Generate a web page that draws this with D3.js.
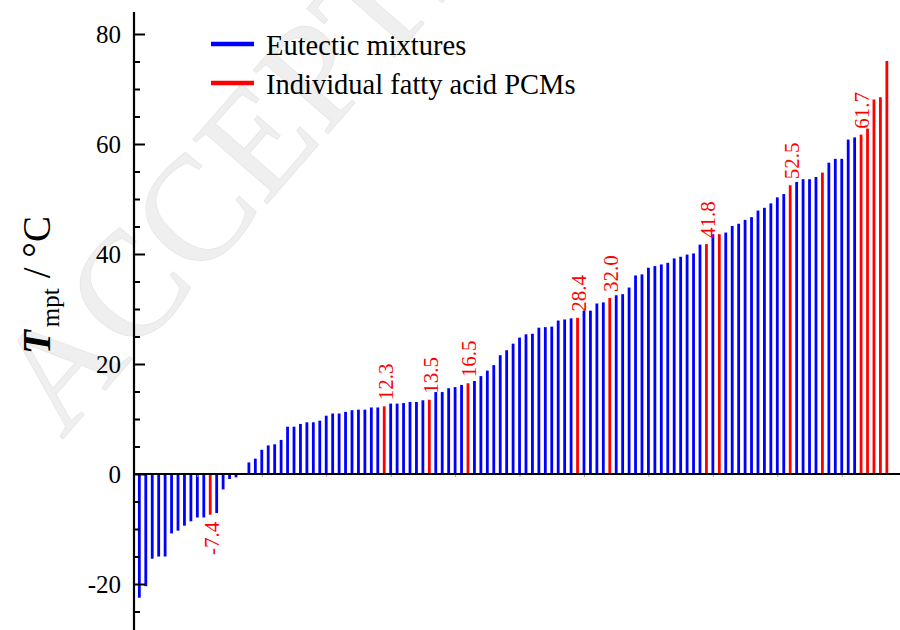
<!DOCTYPE html>
<html>
<head>
<meta charset="utf-8">
<script src="https://cdn.jsdelivr.net/npm/d3@7/dist/d3.min.js"></script>
<style>
  html, body { margin: 0; padding: 0; background: #fff; }
  svg { display: block; }
  text { font-family: "Liberation Serif", "Times New Roman", "DejaVu Serif", serif; }
</style>
</head>
<body>
<svg id="chart" width="900" height="630"></svg>
<script>
// ---- data ----
// melting temperatures, sorted ascending, one per material (°C)
const barValues = [
  -22.5, -20.4, -15.4, -15.0, -15.0, -10.8, -10.3, -9.4, -8.6, -7.9,
  -7.9, -7.4, -7.1, -2.8, -0.9, -0.6, 0.0, 2.1, 2.8, 4.4,
  5.2, 5.4, 6.2, 8.6, 8.6, 9.1, 9.4, 9.4, 9.7, 10.6,
  11.0, 11.0, 11.3, 11.6, 11.7, 11.7, 12.1, 12.1, 12.3, 12.8,
  12.8, 12.9, 13.1, 13.1, 13.4, 13.5, 14.9, 14.9, 15.6, 15.8,
  16.2, 16.5, 16.9, 17.8, 18.8, 19.8, 21.6, 22.5, 23.7, 24.8,
  25.4, 25.5, 26.6, 26.7, 26.8, 27.9, 28.1, 28.3, 28.4, 29.7,
  29.7, 31.0, 31.2, 32.0, 32.5, 32.7, 33.9, 36.1, 36.3, 37.5,
  37.8, 38.1, 38.4, 39.2, 39.5, 39.9, 40.1, 41.7, 41.8, 43.6,
  43.6, 43.9, 45.1, 45.5, 46.2, 46.7, 47.9, 48.4, 49.2, 50.3,
  50.9, 52.5, 53.1, 53.6, 53.6, 54.0, 54.8, 56.6, 57.3, 57.3,
  60.8, 61.2, 61.7, 62.8, 68.1, 68.5, 75.1
];
// positions (0-based) of the individual fatty acid PCMs; all others are eutectic mixtures
const fattyAcidIndex = [11, 38, 45, 51, 68, 73, 88, 90, 101, 106, 112, 113, 114, 115, 116];
// bars that carry a value label
const labeledIndex = [11, 38, 45, 51, 68, 73, 88, 101, 112];
const seriesNames = ["Eutectic mixtures", "Individual fatty acid PCMs"];
const seriesColors = ["#0000ff", "#ff0000"];
const yMajorTicks = [-20, 0, 20, 40, 60, 80];
const yMinorTicks = [-25, -15, -10, -5, 5, 10, 15, 25, 30, 35, 45, 50, 55, 65, 70, 75];
const xTicks = [10, 20, 30, 40, 50, 60, 70, 80, 90, 100, 110];
const watermarkText = "ACCEPTED MANUSCRIPT";

// ---- drawing ----
const svg = d3.select("#chart");
const fontFam = '"Liberation Serif", "Times New Roman", serif';

const x = d3.scaleLinear().domain([0, 118]).range([132.9, 893.3]);
const y = d3.scaleLinear().domain([-28.5, 84]).range([630.75, 12]);

// watermark
svg.append("text")
  .attr("transform", "translate(62,440) rotate(-49)")
  .attr("font-family", fontFam)
  .attr("font-size", 150)
  .attr("fill", "#efefef")
  .attr("stroke", "#e6e6e6")
  .attr("stroke-width", 0.8)
  .text(watermarkText);

const isFatty = new Set(fattyAcidIndex);
const data = barValues.map((v, i) => ({ i, v, t: isFatty.has(i) ? 1 : 0 }));

// bars
svg.append("g").selectAll("rect")
  .data(data)
  .join("rect")
  .attr("x", d => x(d.i + 1) - 1.4)
  .attr("width", 2.8)
  .attr("y", d => y(Math.max(0, d.v)))
  .attr("height", d => Math.abs(y(d.v) - y(0)))
  .attr("fill", d => seriesColors[d.t]);

// value labels
svg.append("g").selectAll("text")
  .data(labeledIndex.map(i => data[i]))
  .join("text")
  .attr("transform", d => d.v >= 0
      ? `translate(${x(d.i + 1) + 1},${y(d.v) - 6}) rotate(-90)`
      : `translate(${x(d.i + 1) + 1},${y(d.v) + 7}) rotate(-90)`)
  .attr("text-anchor", d => d.v >= 0 ? "start" : "end")
  .attr("dy", "0.35em")
  .attr("font-family", fontFam)
  .attr("font-size", 21)
  .attr("fill", seriesColors[1])
  .text(d => d.v.toFixed(1));

// x axis
const xAxisG = svg.append("g").attr("transform", `translate(0,${y(0)})`);
xAxisG.call(d3.axisBottom(x).tickValues(xTicks).tickSize(3).tickFormat(""));
xAxisG.select(".domain").remove();
xAxisG.selectAll(".tick line").attr("stroke", "#aaa").attr("stroke-width", 1);
xAxisG.append("line")
  .attr("x1", 133).attr("x2", 900)
  .attr("stroke", "#000").attr("stroke-width", 2.2);

// y axis
const axX = 134;
const yAxisMajor = svg.append("g").attr("transform", `translate(${axX},0)`);
yAxisMajor.call(d3.axisLeft(y).tickValues(yMajorTicks).tickSize(-11).tickPadding(13).tickFormat(d => String(d)));
yAxisMajor.select(".domain").remove();
yAxisMajor.selectAll(".tick line").attr("stroke", "#000").attr("stroke-width", 2);
yAxisMajor.selectAll(".tick text")
  .attr("font-family", fontFam).attr("font-size", 25).attr("fill", "#000");

const yAxisMinor = svg.append("g").attr("transform", `translate(${axX},0)`);
yAxisMinor.call(d3.axisLeft(y).tickValues(yMinorTicks).tickSize(-6).tickFormat(""));
yAxisMinor.select(".domain").remove();
yAxisMinor.selectAll(".tick line").attr("stroke", "#000").attr("stroke-width", 2);

svg.append("line")
  .attr("x1", axX).attr("x2", axX)
  .attr("y1", y(84)).attr("y2", 630)
  .attr("stroke", "#000").attr("stroke-width", 2.2);

// y title
const title = svg.append("text")
  .attr("transform", "translate(50,354) rotate(-90)")
  .attr("font-family", fontFam)
  .attr("font-size", 39)
  .attr("fill", "#000");
title.append("tspan").attr("font-weight", "bold").attr("font-style", "italic").text("T");
title.append("tspan").attr("font-size", 25).attr("dy", 9).attr("dx", 3).text("mpt");
title.append("tspan").attr("dy", -9).attr("dx", 10).text("/ °C");

// legend
const legend = svg.append("g");
seriesNames.forEach((name, k) => {
  const ly = 44 + k * 39;
  legend.append("line")
    .attr("x1", 211).attr("x2", 254)
    .attr("y1", ly).attr("y2", ly)
    .attr("stroke", seriesColors[k]).attr("stroke-width", 4.5);
  legend.append("text")
    .attr("x", 266).attr("y", ly + 11)
    .attr("font-family", fontFam)
    .attr("font-size", 28.5)
    .attr("fill", "#000")
    .text(name);
});
</script>
</body>
</html>
